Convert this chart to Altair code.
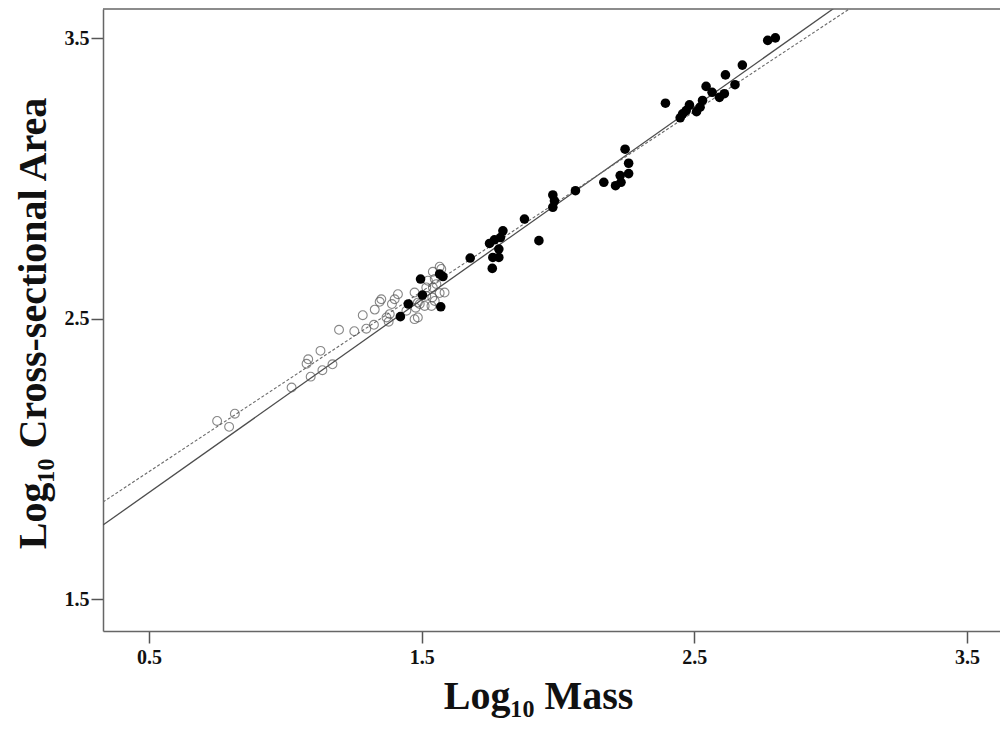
import altair as alt
import pandas as pd

# ---- data ----
open_x = [0.750, 0.815, 0.794, 1.023, 1.093, 1.136, 1.173, 1.078, 1.084, 1.129,
          1.197, 1.253, 1.284, 1.297, 1.325, 1.328, 1.346, 1.379, 1.383, 1.391,
          1.413, 1.401, 1.371, 1.474, 1.486, 1.493, 1.541, 1.572, 1.548, 1.523,
          1.517, 1.541, 1.554, 1.584, 1.566, 1.474, 1.517, 1.539, 1.548, 1.536,
          1.511, 1.486, 1.478, 1.444, 1.566, 1.352]
open_y = [2.136, 2.162, 2.115, 2.255, 2.294, 2.317, 2.338, 2.340, 2.356, 2.386,
          2.461, 2.456, 2.513, 2.465, 2.479, 2.533, 2.561, 2.490, 2.517, 2.553,
          2.588, 2.570, 2.505, 2.499, 2.505, 2.553, 2.668, 2.678, 2.642, 2.636,
          2.612, 2.612, 2.624, 2.594, 2.592, 2.594, 2.582, 2.576, 2.564, 2.546,
          2.546, 2.558, 2.540, 2.529, 2.686, 2.570]

filled_x = [1.422, 1.451, 1.496, 1.503, 1.566, 1.578, 1.570, 1.678, 1.759, 1.761,
            1.783, 1.783, 1.749, 1.767, 1.789, 1.798, 1.877, 1.930, 1.981, 1.987,
            1.981, 2.064, 2.168, 2.211, 2.231, 2.228, 2.259, 2.259, 2.246, 2.394,
            2.448, 2.457, 2.470, 2.482, 2.508, 2.521, 2.530, 2.543, 2.565, 2.592,
            2.610, 2.614, 2.649, 2.676, 2.769, 2.797]
filled_y = [2.508, 2.553, 2.642, 2.585, 2.660, 2.651, 2.543, 2.717, 2.680, 2.719,
            2.719, 2.749, 2.769, 2.782, 2.790, 2.814, 2.856, 2.779, 2.898, 2.921,
            2.942, 2.957, 2.987, 2.975, 2.987, 3.011, 3.018, 3.055, 3.105, 3.269,
            3.217, 3.231, 3.243, 3.263, 3.239, 3.255, 3.279, 3.329, 3.308, 3.290,
            3.303, 3.370, 3.335, 3.405, 3.493, 3.502]

# fitted lines (slope, intercept)
fit_names = ["solid", "dashed"]
fit_slopes = [0.6875, 0.6424]
fit_intercepts = [1.537, 1.634]

x_ticks = [0.5, 1.5, 2.5, 3.5]
y_ticks = [1.5, 2.5, 3.5]

X_MIN, X_MAX = 0.3315, 3.6208
Y_MIN, Y_MAX = 1.387, 3.605

open_df = pd.DataFrame({"x": open_x, "y": open_y})
filled_df = pd.DataFrame({"x": filled_x, "y": filled_y})

line_rows = []
for n, s, b in zip(fit_names, fit_slopes, fit_intercepts):
    for xv in (X_MIN, X_MAX):
        line_rows.append({"fit": n, "x": xv, "y": b + s * xv})
line_df = pd.DataFrame(line_rows)

xscale = alt.Scale(domain=[X_MIN, X_MAX], zero=False, nice=False)
yscale = alt.Scale(domain=[Y_MIN, Y_MAX], zero=False, nice=False)

xaxis = alt.Axis(values=x_ticks, format=".1f", title="Log₁₀ Mass",
                 titleX=435, titleY=77, titleBaseline="alphabetic",
                 titleAlign="center", labelPadding=4)
yaxis = alt.Axis(values=y_ticks, format=".1f", title="Log₁₀ Cross-sectional Area",
                 titleX=-58, titleY=314, titleBaseline="alphabetic",
                 titleAlign="center", titleAngle=270, labelPadding=2)

base_x = alt.X("x:Q", scale=xscale, axis=xaxis)
base_y = alt.Y("y:Q", scale=yscale, axis=yaxis)

solid = alt.Chart(line_df[line_df.fit == "solid"]).mark_line(
    color="#4d4d4d", strokeWidth=1.3, clip=True
).encode(x=base_x, y=base_y)

dashed = alt.Chart(line_df[line_df.fit == "dashed"]).mark_line(
    color="#6a6a6a", strokeWidth=1.1, strokeDash=[3, 2], clip=True
).encode(x="x:Q", y="y:Q")

opens = alt.Chart(open_df).mark_point(
    shape="circle", filled=False, size=78, stroke="#555555", strokeWidth=1.1
).encode(x="x:Q", y="y:Q")

filled = alt.Chart(filled_df).mark_circle(
    size=92, color="#000000", opacity=1
).encode(x="x:Q", y="y:Q")

top_border = alt.Chart(pd.DataFrame({"a": [0]})).mark_rule(
    color="#666666", strokeWidth=1.5
).encode(y=alt.datum(Y_MAX), x=alt.datum(X_MIN), x2=alt.datum(X_MAX))

chart = alt.layer(solid, dashed, opens, filled, top_border).properties(
    width=897, height=622,
    autosize=alt.AutoSizeParams(type="none"),
    padding={"left": 95, "top": 1, "right": 0, "bottom": 95},
    background="white",
).configure_view(stroke=None).configure_axis(
    grid=False,
    labelFont="Liberation Serif", labelFontWeight="bold", labelFontSize=20,
    labelColor="#111111",
    titleFont="Liberation Serif", titleFontWeight="bold", titleFontSize=40,
    titleColor="#111111",
    tickColor="#555555", tickSize=12, tickWidth=1.5,
    domainColor="#666666", domainWidth=1.5,
)

chart.save("out.html", embed_options={"renderer": "svg", "actions": False})
